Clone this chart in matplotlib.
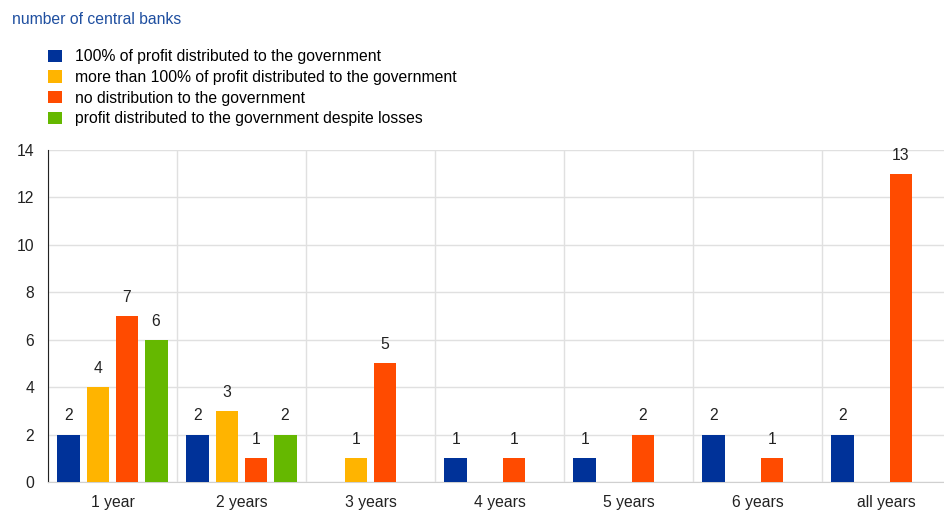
import numpy as np
from matplotlib import pyplot as plt
from matplotlib.patches import Patch

categories = ["1 year", "2 years", "3 years", "4 years", "5 years", "6 years", "all years"]
series_names = [
    "100% of profit distributed to the government",
    "more than 100% of profit distributed to the government",
    "no distribution to the government",
    "profit distributed to the government despite losses",
]
full_profit = [2, 2, np.nan, 1, 1, 2, 2]
more_than_full = [4, 3, 1, np.nan, np.nan, np.nan, np.nan]
no_distribution = [7, 1, 5, 1, 2, 1, 13]
despite_losses = [6, 2, np.nan, np.nan, np.nan, np.nan, np.nan]
colors = ["#003299", "#FFB400", "#FF4B00", "#65B800"]

plt.rcParams["font.family"] = ["Liberation Sans", "DejaVu Sans"]
plt.rcParams["font.size"] = 11.3

fig = plt.figure(figsize=(9.44, 5.26), dpi=100)
ax = fig.add_axes([48 / 944, 44 / 526, 896 / 944, 332 / 526])

x = np.arange(len(categories))
step = 0.225
width = 0.178
all_series = [full_profit, more_than_full, no_distribution, despite_losses]
for i, (vals, col) in enumerate(zip(all_series, colors)):
    pos = x + (i - 1.5) * step
    ax.bar(pos, vals, width=width, color=col, zorder=3)
    for px, v in zip(pos, vals):
        if not np.isnan(v):
            ax.annotate(f"{int(v)}", (px, v), xytext=(0, 8), textcoords="offset points",
                        ha="center", va="bottom", fontsize=11.3, color="#222222")

ax.set_yticks(range(0, 15, 2))
ax.set_xticks(x)
ax.set_xticklabels(categories)
ax.set_xticks(np.arange(len(categories) + 1) - 0.5, minor=True)
ax.set_xlim(-0.5, -0.5 + 896 / 129)
ax.set_ylim(0, 14)
ax.grid(axis="y", color="#e0e0e0", linewidth=1, zorder=0)
ax.grid(axis="x", which="minor", color="#e0e0e0", linewidth=1, zorder=0)
ax.tick_params(axis="both", which="both", length=0, colors="#222222")
ax.tick_params(axis="x", pad=9)
ax.tick_params(axis="y", pad=10)
for s in ["top", "right"]:
    ax.spines[s].set_visible(False)
ax.spines["left"].set_color("#222222")
ax.spines["bottom"].set_color("#d0d0d0")

fig.text(12 / 944, 1 - 20 / 526, "number of central banks", color="#1f4fa0",
         fontsize=11.3, va="center", ha="left")

handles = [Patch(facecolor=c, edgecolor="none") for c in colors]
fig.legend(handles, series_names, loc="upper left", bbox_to_anchor=(42 / 944, 1 - 43 / 526),
           frameon=False, handlelength=0.85, handleheight=0.85, handletextpad=0.85,
           labelspacing=0.36, fontsize=11.3, borderaxespad=0)

fig.savefig("out.png", dpi=100)
